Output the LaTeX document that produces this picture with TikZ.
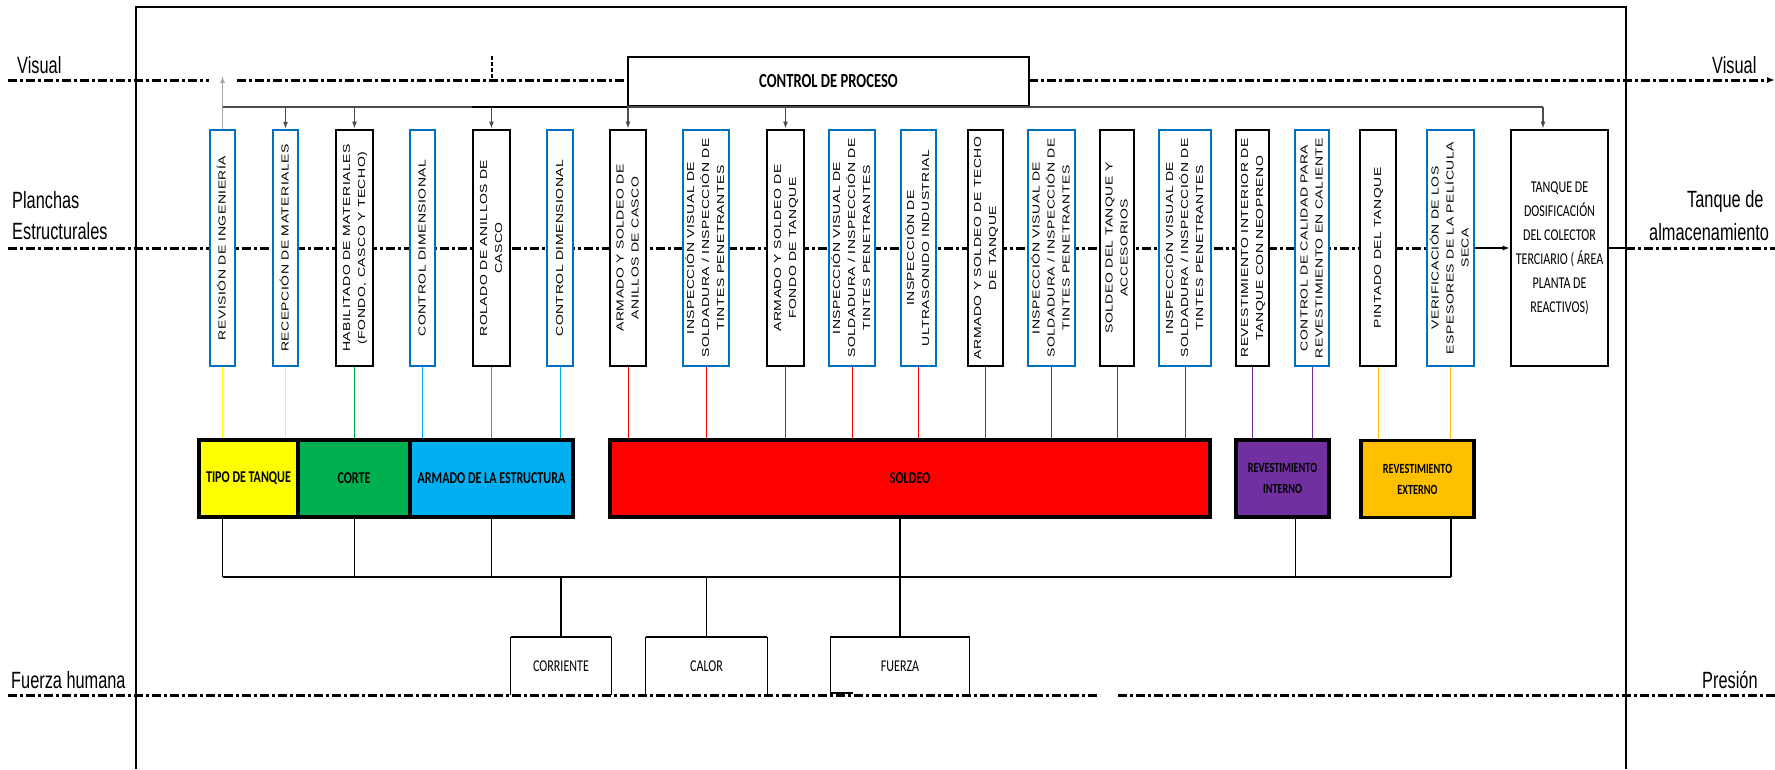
\documentclass[tikz,border=0pt]{standalone}
\usepackage{fontspec}
\usepackage{graphicx}
\usetikzlibrary{arrows.meta}

% fonts: narrow labels, rotated step labels, Calibri-metric labels
\newfontfamily\lblfont[FakeStretch=0.695]{Liberation Sans}
\newfontfamily\vfont[FakeStretch=1.37,LetterSpace=5]{Liberation Sans}
\newfontfamily\cfont[FakeStretch=0.73]{Carlito}

\definecolor{boxblue}{HTML}{0070C0}
\definecolor{cyel}{HTML}{FFFF00}
\definecolor{cgrn}{HTML}{00B050}
\definecolor{ccyan}{HTML}{00B0F0}
\definecolor{cred}{HTML}{FF0000}
\definecolor{cpur}{HTML}{7030A0}
\definecolor{corg}{HTML}{FFC000}

% rotated, centred multi-line step label
\newcommand\vlab[1]{\rotatebox{90}{\vfont\fontsize{10.2}{15}\selectfont\begin{tabular}{@{}c@{}}#1\end{tabular}}}

\tikzset{
  procblue/.style={draw=boxblue, line width=2.4pt, fill=white, minimum height=236pt, inner sep=0pt},
  procblack/.style={draw=black, line width=2.8pt, fill=white, minimum height=236pt, inner sep=0pt},
  zone/.style={draw=black, line width=3.3pt, minimum height=77pt, inner sep=0pt, align=center,
    font=\cfont\bfseries\fontsize{16.5}{21}\selectfont},
  zonesmall/.style={font=\cfont\bfseries\fontsize{14}{21}\selectfont},
  lane/.style={line width=3pt, dash pattern=on 9pt off 3pt on 3pt off 3pt},
  lbl/.style={font=\lblfont\fontsize{23.5}{28}\selectfont, anchor=base west, inner sep=0pt},
  feed/.style={line width=1pt},
  bus/.style={line width=2.5pt},
  link/.style={line width=1.2pt},
  down/.style={-{Latex[length=7pt,width=5pt]}, line width=1.2pt, draw=black!70},
  source/.style={minimum height=58pt, inner sep=0pt, font=\cfont\fontsize{16.5}{20}\selectfont},
}

\begin{document}
\begin{tikzpicture}[x=1pt,y=-1pt]
\useasboundingbox (0,0) rectangle (1775,769);

% outer frame, open at the bottom
\draw[line width=2.2pt] (136,769) -- (136,7) -- (1626,7) -- (1626,769);

% swimlane lines
\draw[lane] (8,80) -- (209,80);
\draw[lane] (237,80) -- (628,80);
\draw[lane, -{Latex[length=8pt,width=6pt]}] (1029,80) -- (1775,80);
\draw[line width=2pt, dash pattern=on 4pt off 2pt] (492,56) -- (492,80);
\draw[lane] (8,248) -- (1474,248);
\draw[lane] (8,695) -- (1100,695);
\draw[lane] (1118,695) -- (1775,695);

% lane labels
\node[lbl] (visL) at (17,73) {Visual};
\node[lbl] (visR) at (1712,73) {Visual};
\node[lbl] (planA) at (12,208) {Planchas};
\node[lbl] (planB) at (12,239) {Estructurales};
\node[lbl] (tanA) at (1687,207) {Tanque de};
\node[lbl] (tanB) at (1649,240) {almacenamiento};
\node[lbl] (fuer) at (11,688) {Fuerza humana};
\node[lbl] (pres) at (1702,688) {Presión};

% process control
\node[draw, line width=2.4pt, fill=white, minimum width=401pt, minimum height=49pt, inner sep=0pt,
  font=\cfont\bfseries\fontsize{20}{24}\selectfont] (cp) at (828.5,81.5) {CONTROL DE PROCESO};

% process steps
\node[procblue,  minimum width=25pt] (b1)  at (222.5,248) {\vlab{REVISIÓN DE INGENIERÍA}};
\node[procblue,  minimum width=25pt] (b2)  at (285.5,248) {\vlab{RECEPCIÓN DE MATERIALES}};
\node[procblack, minimum width=37pt] (b3)  at (354.5,248) {\vlab{HABILITADO DE MATERIALES\\(FONDO, CASCO Y TECHO)}};
\node[procblue,  minimum width=25pt] (b4)  at (422.5,248) {\vlab{CONTROL DIMENSIONAL}};
\node[procblack, minimum width=37pt] (b5)  at (491.5,248) {\vlab{ROLADO DE ANILLOS DE\\CASCO}};
\node[procblue,  minimum width=26pt] (b6)  at (560,248)   {\vlab{CONTROL DIMENSIONAL}};
\node[procblack, minimum width=36pt] (b7)  at (628,248)   {\vlab{ARMADO Y SOLDEO DE\\ANILLOS DE CASCO}};
\node[procblue,  minimum width=46pt] (b8)  at (706,248)   {\vlab{INSPECCIÓN VISUAL DE\\SOLDADURA / INSPECCIÓN DE\\TINTES PENETRANTES}};
\node[procblack, minimum width=37pt] (b9)  at (785.5,248) {\vlab{ARMADO Y SOLDEO DE\\FONDO DE TANQUE}};
\node[procblue,  minimum width=46pt] (b10) at (852,248)   {\vlab{INSPECCIÓN VISUAL DE\\SOLDADURA / INSPECCIÓN DE\\TINTES PENETRANTES}};
\node[procblue,  minimum width=35pt] (b11) at (918.5,248) {\vlab{INSPECCIÓN DE\\ULTRASONIDO INDUSTRIAL}};
\node[procblack, minimum width=35pt] (b12) at (985.5,248) {\vlab{ARMADO Y SOLDEO DE TECHO\\DE TANQUE}};
\node[procblue,  minimum width=47pt] (b13) at (1051.5,248) {\vlab{INSPECCIÓN VISUAL DE\\SOLDADURA / INSPECCIÓN DE\\TINTES PENETRANTES}};
\node[procblack, minimum width=34pt] (b14) at (1117,248)  {\vlab{SOLDEO DEL TANQUE Y\\ACCESORIOS}};
\node[procblue,  minimum width=52pt] (b15) at (1185,248)  {\vlab{INSPECCIÓN VISUAL DE\\SOLDADURA / INSPECCIÓN DE\\TINTES PENETRANTES}};
\node[procblack, minimum width=33pt] (b16) at (1252.5,248) {\vlab{REVESTIMIENTO INTERIOR DE\\TANQUE CON NEOPRENO}};
\node[procblue,  minimum width=34pt] (b17) at (1312,248)  {\vlab{CONTROL DE CALIDAD PARA\\REVESTIMIENTO EN CALIENTE}};
\node[procblack, minimum width=36pt] (b18) at (1378,248)  {\vlab{PINTADO DEL TANQUE}};
\node[procblue,  minimum width=47pt] (b19) at (1450.5,248) {\vlab{VERIFICACIÓN DE LOS\\ESPESORES DE LA PELÍCULA\\SECA}};
\node[procblack, minimum width=97pt, align=center,
  font=\cfont\fontsize{16.5}{24}\selectfont] (b20) at (1559.5,248)
  {TANQUE DE\\DOSIFICACIÓN\\DEL COLECTOR\\TERCIARIO ( ÁREA\\PLANTA DE\\REACTIVOS)};

% control distribution line and arrows
\coordinate (dL) at (222.5,107);
\coordinate (dR) at (1543,107);
\coordinate (vtip) at (222.5,76);
\draw[line width=1.4pt, draw=black!70] (dL) -- (dR);
\draw[line width=2.4pt] (cp.south west) -- ++(-155,0);
\draw[-{Latex[length=7pt,width=5pt]}, line width=1.3pt, draw=black!35, fill=black] (b1.north) -- (vtip);
\foreach \b in {b2,b3,b5,b7,b9}{
  \draw[down] (\b.north |- dL) -- (\b.north);
}
\draw[down] (dR) -- (dR |- b20.north);

% flow into and out of the dosing tank
\draw[-{Latex[length=7pt,width=5pt]}, line width=1.2pt] (b19.east) -- (b20.west);
\draw[line width=2.2pt] (b20.east) -- (1626,248);
\draw[lane] (1626,248) -- (1775,248);

% stage blocks
\node[zone, fill=cyel,  minimum width=99pt]  (tipo)   at (248.5,478.5) {TIPO DE TANQUE};
\node[zone, fill=cgrn,  minimum width=112pt] (corte)  at (354,478.5)   {CORTE};
\node[zone, fill=ccyan, minimum width=163pt] (armado) at (491.5,478.5) {ARMADO DE LA ESTRUCTURA};
\node[zone, fill=cred,  minimum width=600pt] (soldeo) at (910,478.5)   {SOLDEO};
\node[zone, zonesmall, fill=cpur, minimum width=93pt]  (revint) at (1282.5,478.5) {REVESTIMIENTO\\INTERNO};
\node[zone, zonesmall, fill=corg, minimum width=113pt] (revext) at (1417.5,479)   {REVESTIMIENTO\\EXTERNO};

% steps feeding their stages
\foreach \b in {b1,b2}{\draw[feed, cyel] (\b.south) -- (\b.south |- tipo.north);}
\draw[feed, cgrn] (b3.south) -- (b3.south |- corte.north);
\foreach \b in {b4,b5,b6}{\draw[feed, ccyan] (\b.south) -- (\b.south |- armado.north);}
\foreach \b in {b7,b8,b9,b10,b11,b12,b13,b14,b15}{\draw[feed, cred] (\b.south) -- (\b.south |- soldeo.north);}
\foreach \b in {b16,b17}{\draw[feed, cpur] (\b.south) -- (\b.south |- revint.north);}
\foreach \b in {b18,b19}{\draw[feed, corg] (\b.south) -- (\b.south |- revext.north);}

% energy sources
\node[source, minimum width=100pt] (corr) at (561,666)   {CORRIENTE};
\node[source, minimum width=121pt] (cal)  at (706.5,666) {CALOR};
\node[source, minimum width=139pt] (fza)  at (900,666)   {FUERZA};
\foreach \s in {corr,cal,fza}{
  \draw[line width=1.2pt] (\s.south west) -- (\s.north west) (\s.north east) -- (\s.south east);
  \draw[line width=2.4pt] (\s.north west) -- (\s.north east);
}
\draw[line width=1.5pt] ([yshift=2pt]fza.south west) -- ++(23,0);

% collector bus
\coordinate (busL) at (222.5,577);
\coordinate (busR) at (1451,577);
\draw[bus] (busL) -- (busR);
\draw[link] (tipo.south -| b1) -- (b1 |- busL);
\draw[link] (corte.south -| b3) -- (b3 |- busL);
\draw[link] (armado.south -| b5) -- (b5 |- busL);
\draw[link] ([xshift=13pt]revint.south) -- ([xshift=13pt]revint.south |- busL);
\draw[link] (revext.south -| busR) -- (busR);
\draw[link] (soldeo.south -| fza.north) -- (fza.north);
\draw[link] (corr.north) -- (corr.north |- busL);
\draw[link] (cal.north) -- (cal.north |- busL);
\end{tikzpicture}
\end{document}
